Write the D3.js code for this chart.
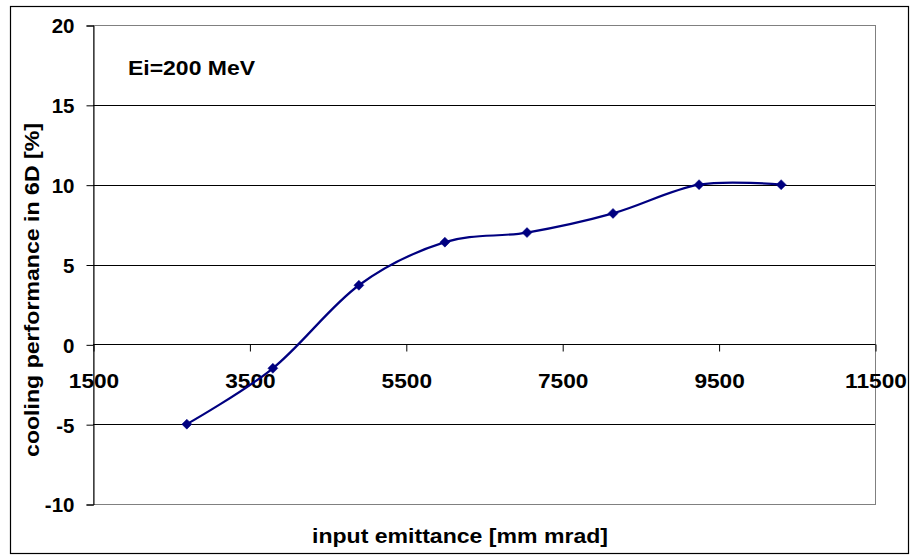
<!DOCTYPE html>
<html>
<head>
<meta charset="utf-8">
<script src="https://cdn.jsdelivr.net/npm/d3@7"></script>
<style>
  html, body { margin: 0; padding: 0; background: #fff; }
  svg text { font-family: "Liberation Sans", Arial, sans-serif; font-weight: bold; fill: #000; }
</style>
</head>
<body>
<svg id="chart" width="914" height="556"></svg>
<script>
// Data
const emittance = [2700, 3800, 4900, 6000, 7050, 8150, 9250, 10300];
const performance = [-5.0, -1.5, 3.7, 6.4, 7.0, 8.2, 10.0, 10.0];
const xTickValues = [1500, 3500, 5500, 7500, 9500, 11500];
const yTickValues = [-10, -5, 0, 5, 10, 15, 20];
const xTitle = "input emittance [mm mrad]";
const yTitle = "cooling performance in 6D [%]";
const annotation = "Ei=200 MeV";

const svg = d3.select("#chart");
const plot = { left: 93, right: 875, top: 25, bottom: 504 };

const x = d3.scaleLinear().domain([1500, 11500]).range([plot.left, plot.right]);
const y = d3.scaleLinear().domain([-10, 20]).range([plot.bottom, plot.top]);

// Outer chart border
svg.append("rect").attr("x", 10.5).attr("y", 6.5).attr("width", 898).attr("height", 547)
  .attr("fill", "#fff").attr("stroke", "#000").attr("stroke-width", 1.2);

// Plot area border (gray)
svg.append("rect").attr("x", plot.left + 0.5).attr("y", plot.top + 0.5)
  .attr("width", plot.right - plot.left).attr("height", plot.bottom - plot.top)
  .attr("fill", "#fff").attr("stroke", "#808080").attr("stroke-width", 1);

// Gridlines
svg.append("g").selectAll("line").data(yTickValues.filter(v => v > -10 && v < 20)).join("line")
  .attr("x1", plot.left).attr("x2", plot.right)
  .attr("y1", d => Math.round(y(d)) + 0.5).attr("y2", d => Math.round(y(d)) + 0.5)
  .attr("stroke", "#000").attr("stroke-width", 1);

const fmt = d => String(d);

// Y axis
const yAxis = d3.axisLeft(y).tickValues(yTickValues).tickSize(7).tickPadding(12).tickFormat(fmt);
const gy = svg.append("g").attr("transform", `translate(${plot.left + 0.5},0.5)`).call(yAxis);
gy.select(".domain").attr("stroke", "#000");
gy.selectAll(".tick line").attr("stroke", "#000");
gy.selectAll(".tick text").attr("font-size", 20.5).attr("font-family", "Liberation Sans, Arial, sans-serif")
  .attr("font-weight", "bold").attr("fill", "#000").attr("dy", "0.36em");

// X axis at y=0
const xAxis = d3.axisBottom(x).tickValues(xTickValues).tickSize(7).tickPadding(22).tickFormat(fmt);
const gx = svg.append("g").attr("transform", `translate(0.5,${Math.round(y(0)) + 0.5})`).call(xAxis);
gx.select(".domain").attr("stroke", "#000").attr("d", `M${plot.left},0H${plot.right}`);
gx.selectAll(".tick line").attr("stroke", "#000");
gx.selectAll(".tick text").attr("font-size", 21).attr("font-family", "Liberation Sans, Arial, sans-serif")
  .attr("font-weight", "bold").attr("fill", "#000").attr("dy", "0.71em")
  .each(function () { const L = this.getComputedTextLength(); d3.select(this).attr("textLength", L * 1.08).attr("lengthAdjust", "spacingAndGlyphs"); });

// Line
const pts = emittance.map((e, i) => [x(e), y(performance[i])]);
svg.append("path").attr("d", d3.line().curve(d3.curveCardinal.tension(0))(pts))
  .attr("fill", "none").attr("stroke", "#000080").attr("stroke-width", 2.2);

// Markers
svg.append("g").selectAll("path").data(pts).join("path")
  .attr("transform", d => `translate(${d[0]},${d[1]})`)
  .attr("d", "M0,-5L5,0L0,5L-5,0Z")
  .attr("fill", "#000080").attr("stroke", "#000080").attr("stroke-width", 0.5);

// Annotation
svg.append("text").attr("x", 128).attr("y", 75).attr("font-size", 21).text(annotation)
  .attr("textLength", 127).attr("lengthAdjust", "spacingAndGlyphs");

// Axis titles
svg.append("text").attr("x", 460).attr("y", 543).attr("text-anchor", "middle").attr("font-size", 21)
  .attr("textLength", 296).attr("lengthAdjust", "spacingAndGlyphs").text(xTitle);
svg.append("text").attr("transform", "translate(39,290) rotate(-90)").attr("text-anchor", "middle")
  .attr("font-size", 21).attr("textLength", 334).attr("lengthAdjust", "spacingAndGlyphs").text(yTitle);
</script>
</body>
</html>
